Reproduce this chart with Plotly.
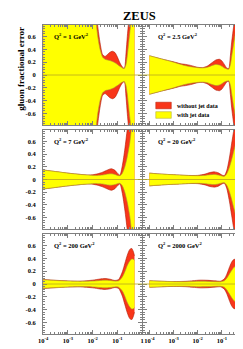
import plotly.graph_objects as go

W, H = 243, 349

# ---------------- data (log10 x, fractional error half-widths) ----------------
Q2_LABELS = ["1", "2.5", "7", "20", "200", "2000"]

LOGX_Q1 = [-4.0, -3.0, -2.2, -2.0, -1.9, -1.8, -1.7, -1.6, -1.5, -1.4, -1.3, -1.2,
           -1.1, -1.0, -0.9, -0.8, -0.72, -0.65, -0.6, -0.55, -0.5, -0.45, -0.4, -0.31]
YEL_Q1 = [3.0, 3.0, 2.5, 1.6, 1.0, 0.62, 0.40, 0.28, 0.245, 0.235, 0.225, 0.21,
          0.19, 0.165, 0.135, 0.11, 0.10, 0.17, 0.30, 0.48, 0.66, 0.82, 1.0, 1.4]
RED_Q1 = [3.0, 3.0, 2.5, 1.7, 1.15, 0.78, 0.50, 0.32, 0.29, 0.32, 0.355, 0.37,
          0.35, 0.28, 0.19, 0.125, 0.105, 0.35, 0.6, 0.82, 1.05, 1.3, 1.6, 2.0]

LOGX_Q2 = [-4.0, -3.5, -3.0, -2.7, -2.5, -2.3, -2.0, -1.8, -1.6, -1.4, -1.25, -1.1,
           -1.0, -0.9, -0.8, -0.72, -0.65, -0.6, -0.5, -0.4, -0.3, -0.2]
YEL_Q2 = [0.30, 0.25, 0.20, 0.165, 0.145, 0.13, 0.115, 0.11, 0.12, 0.15, 0.165, 0.155,
          0.135, 0.11, 0.095, 0.09, 0.16, 0.28, 0.52, 0.75, 0.98, 1.2]
RED_Q2 = [0.30, 0.25, 0.205, 0.175, 0.165, 0.15, 0.12, 0.115, 0.14, 0.195, 0.235, 0.245,
          0.22, 0.165, 0.11, 0.10, 0.30, 0.50, 0.80, 1.05, 1.3, 1.5]

LOGX_Q3 = [-4.0, -3.5, -3.0, -2.5, -2.2, -2.0, -1.8, -1.6, -1.4, -1.25, -1.1, -1.0,
           -0.9, -0.8, -0.7, -0.6, -0.5, -0.44, -0.31]
YEL_Q3 = [0.15, 0.125, 0.10, 0.08, 0.07, 0.065, 0.065, 0.07, 0.085, 0.09, 0.08, 0.065,
          0.06, 0.10, 0.20, 0.36, 0.58, 0.78, 1.3]
RED_Q3 = [0.15, 0.125, 0.10, 0.08, 0.072, 0.075, 0.09, 0.115, 0.15, 0.17, 0.145, 0.10,
          0.07, 0.22, 0.48, 0.80, 1.15, 1.4, 2.0]

LOGX_Q4 = [-4.0, -3.5, -3.0, -2.5, -2.0, -1.7, -1.5, -1.3, -1.15, -1.0, -0.9, -0.8,
           -0.7, -0.6, -0.5, -0.4, -0.3, -0.2]
YEL_Q4 = [0.10, 0.085, 0.075, 0.065, 0.06, 0.065, 0.075, 0.08, 0.07, 0.055, 0.05, 0.09,
          0.18, 0.31, 0.46, 0.62, 0.80, 1.0]
RED_Q4 = [0.10, 0.085, 0.075, 0.065, 0.065, 0.085, 0.11, 0.12, 0.105, 0.07, 0.06, 0.14,
          0.32, 0.56, 0.80, 1.05, 1.3, 1.55]

LOGX_Q5 = [-4.0, -3.5, -3.0, -2.5, -2.0, -1.7, -1.5, -1.3, -1.1, -0.95, -0.8, -0.7,
           -0.6, -0.5, -0.42, -0.36, -0.31]
YEL_Q5 = [0.065, 0.055, 0.045, 0.04, 0.045, 0.055, 0.06, 0.055, 0.045, 0.05, 0.11, 0.19,
          0.29, 0.36, 0.39, 0.385, 0.37]
RED_Q5 = [0.07, 0.058, 0.048, 0.045, 0.06, 0.078, 0.085, 0.075, 0.055, 0.07, 0.19, 0.32,
          0.45, 0.54, 0.555, 0.51, 0.44]

LOGX_Q6 = [-4.0, -3.5, -3.0, -2.5, -2.2, -1.9, -1.6, -1.3, -1.05, -0.9, -0.8, -0.7,
           -0.6, -0.5, -0.42, -0.32, -0.21]
YEL_Q6 = [0.05, 0.042, 0.036, 0.035, 0.038, 0.042, 0.04, 0.036, 0.035, 0.05, 0.09, 0.15,
          0.21, 0.26, 0.28, 0.27, 0.25]
RED_Q6 = [0.05, 0.043, 0.038, 0.042, 0.052, 0.06, 0.058, 0.05, 0.045, 0.08, 0.15, 0.25,
          0.34, 0.385, 0.38, 0.34, 0.29]

X_TICKVALS = [1e-4, 1e-3, 1e-2, 1e-1, 1]
X_TICKTEXT = ["10<sup>-4</sup>", "10<sup>-3</sup>", "10<sup>-2</sup>", "10<sup>-1</sup>", "1"]
Y_TICKVALS = [-0.6, -0.4, -0.2, 0, 0.2, 0.4, 0.6]
Y_TICKTEXT = ["-0.6", "-0.4", "-0.2", "0", "0.2", "0.4", "0.6"]

LEGEND_LABELS = ["without jet data", "with jet data"]

# ---------------- styling ----------------
RED = "#f8361a"
RED_EDGE = "#b01c08"
YEL = "#ffff00"
YEL_EDGE = "#a8a030"
ZERO = "#b8a820"
FRAME = "#808080"
FONT = "Liberation Serif"

panels = [
    (LOGX_Q1, YEL_Q1, RED_Q1),
    (LOGX_Q2, YEL_Q2, RED_Q2),
    (LOGX_Q3, YEL_Q3, RED_Q3),
    (LOGX_Q4, YEL_Q4, RED_Q4),
    (LOGX_Q5, YEL_Q5, RED_Q5),
    (LOGX_Q6, YEL_Q6, RED_Q6),
]

# panel pixel boxes
ROWS = [(17, 117), (122, 221), (226, 326)]
COLS = [(31, 133), (134, 240)]
XRANGES = [[-4, 0], [-4.26, 0]]
YR = 0.78


def px(x):
    return x / W


def py(y):
    return 1 - y / H


minor_x = [m * 10 ** e for e in range(-5, 0) for m in range(2, 10)]

fig = go.Figure()
layout = dict(
    width=W, height=H,
    margin=dict(l=0, r=0, t=0, b=0),
    paper_bgcolor="white", plot_bgcolor="white",
    showlegend=False,
    font=dict(family=FONT, color="black"),
)
shapes = []
annotations = []

for i, (lx, yel, red) in enumerate(panels):
    r, c = divmod(i, 2)
    sfx = "" if i == 0 else str(i + 1)
    xa, ya = "x" + sfx, "y" + sfx
    xv = [10 ** v for v in lx]

    for vals, fc, lc in ((red, RED, RED_EDGE), (yel, YEL, YEL_EDGE)):
        for sign in (1, -1):
            fig.add_trace(go.Scatter(
                x=xv, y=[sign * v for v in vals], xaxis=xa, yaxis=ya,
                mode="lines", line=dict(color=lc, width=0.6, shape="spline", smoothing=0.7),
                fill="tozeroy", fillcolor=fc, hoverinfo="skip"))

    y0, y1 = ROWS[r]
    x0, x1 = COLS[c]
    layout["xaxis" + sfx] = dict(
        type="log", range=XRANGES[c], domain=[px(x0), px(x1)], anchor=ya,
        showline=True, mirror="allticks", linecolor=FRAME, linewidth=1,
        ticks="inside", ticklen=4, tickwidth=1, tickcolor=FRAME,
        tickmode="array", tickvals=X_TICKVALS, ticktext=X_TICKTEXT,
        showticklabels=(r == 2), tickfont=dict(family=FONT, size=6.5, weight="bold"),
        minor=dict(ticks="inside", ticklen=2, tickcolor=FRAME, tickmode="array", tickvals=minor_x),
        showgrid=False, zeroline=False,
    )
    layout["yaxis" + sfx] = dict(
        range=[-YR, YR], domain=[py(y1), py(y0)], anchor=xa,
        showline=True, mirror="allticks", linecolor=FRAME, linewidth=1,
        ticks="inside", ticklen=4, tickwidth=1, tickcolor=FRAME,
        tickmode="array", tickvals=Y_TICKVALS, ticktext=Y_TICKTEXT,
        showticklabels=(c == 0), tickfont=dict(family=FONT, size=6.5, weight="bold"),
        ticklabelstandoff=5,
        minor=dict(ticks="inside", ticklen=2, tickcolor=FRAME, dtick=0.04, tick0=0),
        showgrid=False, zeroline=False,
    )
    shapes.append(dict(type="line", xref=xa + " domain", yref=ya, x0=0, x1=1, y0=0, y1=0,
                       line=dict(color=ZERO, width=0.8), layer="above"))
    annotations.append(dict(
        x=px(x0 + (9 if c == 0 else 13)), y=py(y0 + 11), xref="paper", yref="paper",
        xanchor="left", yanchor="middle", showarrow=False,
        text="Q<sup>2</sup> = " + Q2_LABELS[i] + " GeV<sup>2</sup>",
        font=dict(family=FONT, size=6.5, weight="bold")))

# legend (drawn in row 1, right panel)
for k, (fc, lc, ycen) in enumerate(((RED, RED_EDGE, 97.5), (YEL, YEL_EDGE, 107))):
    shapes.append(dict(type="rect", xref="paper", yref="paper",
                       x0=px(147), x1=px(163), y0=py(ycen + 3.3), y1=py(ycen - 3.3),
                       fillcolor=fc, line=dict(color=lc, width=0.5)))
    annotations.append(dict(x=px(167), y=py(ycen), xref="paper", yref="paper",
                            xanchor="left", yanchor="middle", showarrow=False,
                            text=LEGEND_LABELS[k], font=dict(family=FONT, size=6, weight="bold")))

annotations.append(dict(x=px(130), y=py(8.5), xref="paper", yref="paper", showarrow=False,
                        xanchor="center", yanchor="middle", text="ZEUS",
                        font=dict(family=FONT, size=12.5, weight="bold")))
annotations.append(dict(x=px(8), y=py(61), xref="paper", yref="paper", showarrow=False,
                        xanchor="center", yanchor="middle", textangle=-90,
                        text="gluon fractional error",
                        font=dict(family=FONT, size=9, weight="bold")))
annotations.append(dict(x=px(236), y=py(341.5), xref="paper", yref="paper", showarrow=False,
                        xanchor="center", yanchor="middle", text="x", borderpad=0,
                        font=dict(family=FONT, size=8, weight="bold")))

layout["shapes"] = shapes
layout["annotations"] = annotations
fig.update_layout(**layout)
fig.write_html("out.html")
